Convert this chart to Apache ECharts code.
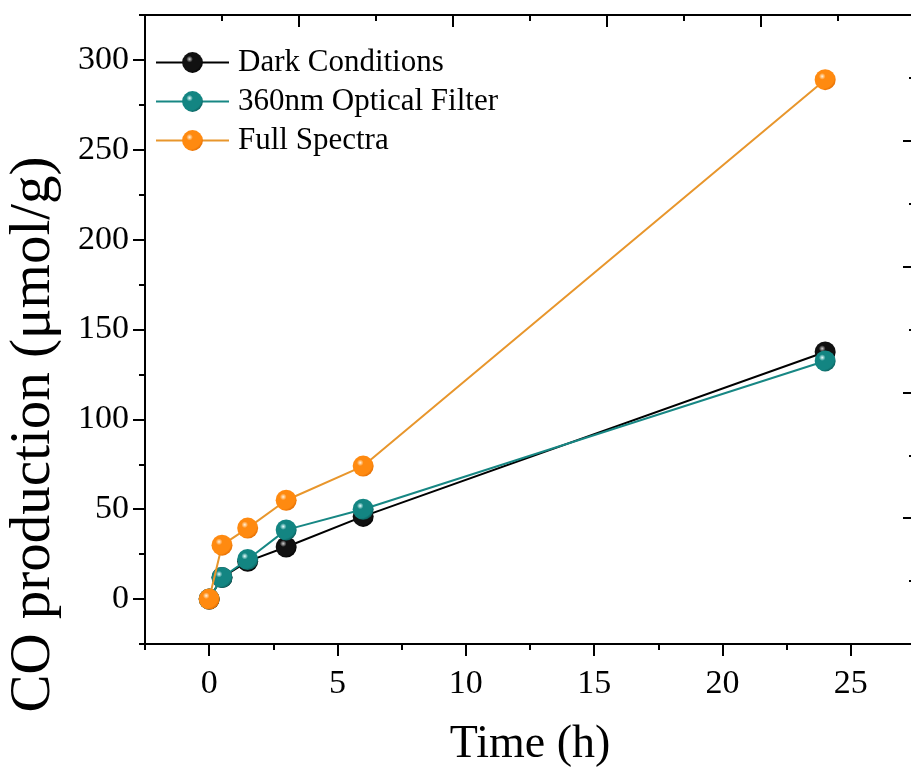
<!DOCTYPE html>
<html>
<head>
<meta charset="utf-8">
<script src="https://cdn.jsdelivr.net/npm/echarts@6/dist/echarts.min.js"></script>
<style>html,body{margin:0;padding:0;background:#fff;}#c{width:911px;height:769px;}</style>
</head>
<body>
<div id="c"></div>
<script>
const seriesNames = ['Dark Conditions', '360nm Optical Filter', 'Full Spectra'];
const timeH = [0, 0.5, 1.5, 3, 6, 24];
const darkValues = [0, 12, 21, 29, 46, 137.5];
const filterValues = [0, 12, 22, 38.5, 50, 132.5];
const fullValues = [0, 30, 39.5, 55, 74, 289];
const xTickLabels = [0, 5, 10, 15, 20, 25];
const yTickLabels = [0, 50, 100, 150, 200, 250, 300];

const FONT = "'Liberation Serif', 'Times New Roman', serif";

function ball(base, light, dark) {
  return {
    type: 'radial', x: 0.36, y: 0.34, r: 0.72,
    colorStops: [
      { offset: 0, color: light },
      { offset: 0.22, color: base },
      { offset: 0.8, color: base },
      { offset: 1, color: dark }
    ]
  };
}

function pairs(ys) { return timeH.map((t, i) => [t, ys[i]]); }

const styles = [
  { line: '#000000', fill: ball('#111111', '#d0d0d0', '#000000') },
  { line: '#178784', fill: ball('#138582', '#e8ffff', '#0a5a58') },
  { line: '#e8962c', fill: ball('#ff8a10', '#fff2dc', '#e06a00') }
];
const allValues = [darkValues, filterValues, fullValues];

const chart = echarts.init(document.getElementById('c'));
chart.setOption({
  animation: false,
  backgroundColor: '#ffffff',
  grid: { left: 145, top: 15, width: 770, height: 629, containLabel: false, outerBoundsMode: 'none' },
  legend: {
    show: true,
    data: seriesNames,
    orient: 'vertical',
    left: 155, top: 47, padding: 0,
    itemWidth: 73, itemHeight: 26, itemGap: 8,
    textStyle: { fontFamily: FONT, fontSize: 31, color: '#000', lineHeight: 30, padding: [0, 0, 0, 4] }
  },
  xAxis: [
    {
      type: 'value', position: 'bottom',
      min: -2.5, max: 27.5, interval: 5,
      name: 'Time (h)', nameLocation: 'middle', nameGap: 78,
      nameTextStyle: { fontFamily: FONT, fontSize: 46, color: '#000' },
      axisLine: { show: true, onZero: false, lineStyle: { color: '#000', width: 2 } },
      axisTick: { show: true, inside: false, length: 6, lineStyle: { color: '#000', width: 2 } },
      minorTick: { show: true, splitNumber: 2, length: 12, lineStyle: { color: '#000', width: 2 } },
      axisLabel: { customValues: xTickLabels, margin: 23, fontFamily: FONT, fontSize: 34, color: '#000' },
      splitLine: { show: false }, minorSplitLine: { show: false }
    },
    {
      type: 'value', position: 'top',
      min: 0, max: 10, interval: 2,
      axisLine: { show: true, onZero: false, lineStyle: { color: '#000', width: 2 } },
      axisTick: { show: true, inside: true, length: 12, lineStyle: { color: '#000', width: 2 } },
      minorTick: { show: true, splitNumber: 2, length: 6, lineStyle: { color: '#000', width: 2 } },
      axisLabel: { show: false },
      splitLine: { show: false }
    }
  ],
  yAxis: [
    {
      type: 'value', position: 'left',
      min: -25, max: 325, interval: 50,
      name: 'CO production (μmol/g)', nameLocation: 'middle', nameGap: 82,
      nameTextStyle: { fontFamily: FONT, fontSize: 57, color: '#000', padding: [0, 210, 0, 0] },
      axisLine: { show: true, onZero: false, lineStyle: { color: '#000', width: 2 } },
      axisTick: { show: true, inside: false, length: 6, lineStyle: { color: '#000', width: 2 } },
      minorTick: { show: true, splitNumber: 2, length: 12, lineStyle: { color: '#000', width: 2 } },
      axisLabel: { customValues: yTickLabels, margin: 16, fontFamily: FONT, fontSize: 34, color: '#000' },
      splitLine: { show: false }, minorSplitLine: { show: false }
    },
    {
      type: 'value', position: 'right',
      min: 0, max: 10, interval: 2,
      axisLine: { show: false, onZero: false },
      axisTick: { show: true, inside: true, length: 12, lineStyle: { color: '#000', width: 2 } },
      minorTick: { show: true, splitNumber: 2, length: 6, lineStyle: { color: '#000', width: 2 } },
      axisLabel: { show: false },
      splitLine: { show: false }
    }
  ],
  series: seriesNames.map((name, i) => ({
    name: name,
    type: 'line',
    xAxisIndex: 0, yAxisIndex: 0,
    data: pairs(allValues[i]),
    symbol: 'circle',
    symbolSize: 21,
    showAllSymbol: true,
    lineStyle: { color: styles[i].line, width: 2 },
    itemStyle: { color: styles[i].fill, borderWidth: 0 },
    z: 2 + i
  }))
});
</script>
</body>
</html>
